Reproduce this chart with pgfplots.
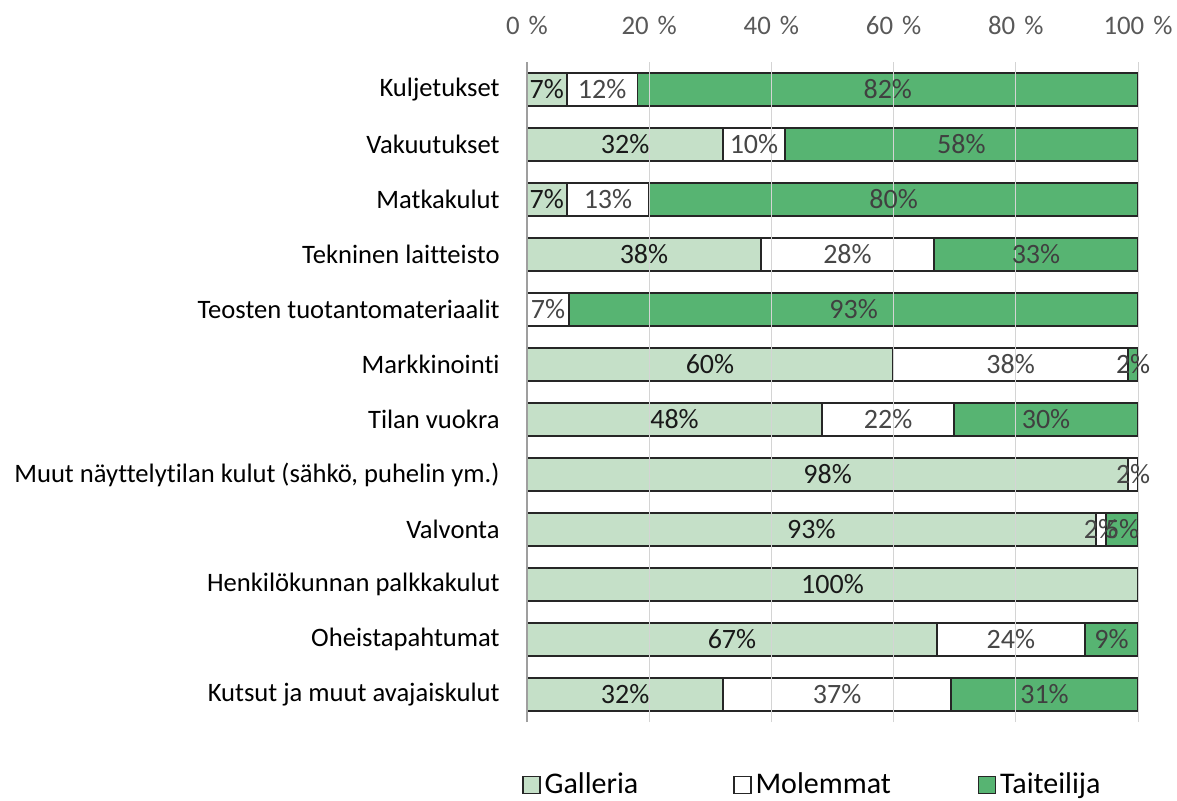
\documentclass[border=0pt]{standalone}
\usepackage{fontspec}
\setmainfont{Carlito}[Ligatures=CommonOff]
\usepackage{pgfplots}
\usepackage{pgfplotstable}
\pgfplotsset{compat=1.18}
\definecolor{galleria}{HTML}{C5E0C8}
\definecolor{taiteilija}{HTML}{57B472}
\definecolor{edge}{HTML}{262626}
\definecolor{gridc}{HTML}{D4D4D4}
\definecolor{ticktext}{HTML}{595959}

% rows from bottom (0) to top (11); G = Galleria, M = Molemmat, T = Taiteilija
\pgfplotstableread{
y G M T Gl Ml Tl
0 32.1 37.3 30.6 32\% 37\% 31\%
1 67.1 24.2 8.7 67\% 24\% 9\%
2 100 0 0 100\% {} {}
3 93.1 1.7 5.2 93\% 2\% 5\%
4 98.4 1.6 0 98\% 2\% {}
5 48.3 21.6 30.1 48\% 22\% 30\%
6 59.9 38.5 1.6 60\% 38\% 2\%
7 0 6.9 93.1 {} 7\% 93\%
8 38.3 28.3 33.4 38\% 28\% 33\%
9 6.5 13.5 80.0 7\% 13\% 80\%
10 32.1 10.1 57.8 32\% 10\% 58\%
11 6.5 11.6 81.9 7\% 12\% 82\%
}\kulut

\begin{document}
\begin{tikzpicture}
\begin{axis}[
  name=ax,
  xbar stacked,
  width=305.5pt, height=330pt, scale only axis,
  xmin=0, xmax=100, ymin=-0.5, ymax=11.5,
  bar width=16.5pt,
  axis on top,
  separate axis lines,
  axis x line*=top,
  axis y line*=left,
  x axis line style={draw=none},
  y axis line style={draw=gray!75, line width=0.6pt},
  xmajorgrids, grid style={gridc, line width=0.5pt},
  xtick={0,20,...,100},
  xticklabels={0\hspace{4.5pt}\%,20\hspace{4.5pt}\%,40\hspace{4.5pt}\%,60\hspace{4.5pt}\%,80\hspace{4.5pt}\%,100\hspace{4.5pt}\%},
  xticklabel style={font=\fontsize{13.4}{15}\selectfont, text=ticktext, anchor=base, inner sep=0pt, yshift=13.75pt},
  ytick={0,...,11},
  yticklabels={Kutsut ja muut avajaiskulut, Oheistapahtumat, Henkilökunnan palkkakulut, Valvonta,
    {Muut näyttelytilan kulut (sähkö, puhelin ym.)}, Tilan vuokra, Markkinointi,
    Teosten tuotantomateriaalit, Tekninen laitteisto, Matkakulut, Vakuutukset, Kuljetukset},
  yticklabel style={font=\fontsize{13.3}{15}\selectfont, anchor=east, inner sep=0pt, xshift=-13.5pt},
  major tick length=0pt,
  point meta=explicit symbolic,
  nodes near coords,
  every node near coord/.append style={anchor=center, font=\fontsize{14}{16}\selectfont},
  legend columns=3,
  legend style={at={(0.5,0)}, anchor=center, xshift=-9.5pt, yshift=-31.5pt, draw=none, fill=none,
    font=\fontsize{15}{18}\selectfont,
    /tikz/column 2/.style={column sep=45.5pt},
    /tikz/column 4/.style={column sep=41.5pt}},
  legend image code/.code={\draw[#1, draw=edge, line width=0.6pt] (0pt,-4.25pt) rectangle (8.5pt,4.25pt);},
]
\addplot[fill=galleria, draw=edge, line width=0.9pt,
  every node near coord/.append style={text=black!90}]
  table[x=G, y=y, meta=Gl] {\kulut};
\addlegendentry{Galleria}
\addplot[fill=white, draw=edge, line width=0.9pt,
  every node near coord/.append style={text=black!72}]
  table[x=M, y=y, meta=Ml] {\kulut};
\addlegendentry{Molemmat}
\addplot[fill=taiteilija, draw=edge, line width=0.9pt,
  every node near coord/.append style={text=black!75}]
  table[x=T, y=y, meta=Tl] {\kulut};
\addlegendentry{Taiteilija}
\end{axis}
\pgfresetboundingbox
\path[use as bounding box] ([shift={(-263.5pt,-39pt)}]ax.south west) rectangle ([shift={(325pt,361pt)}]ax.south west);
\end{tikzpicture}
\end{document}
